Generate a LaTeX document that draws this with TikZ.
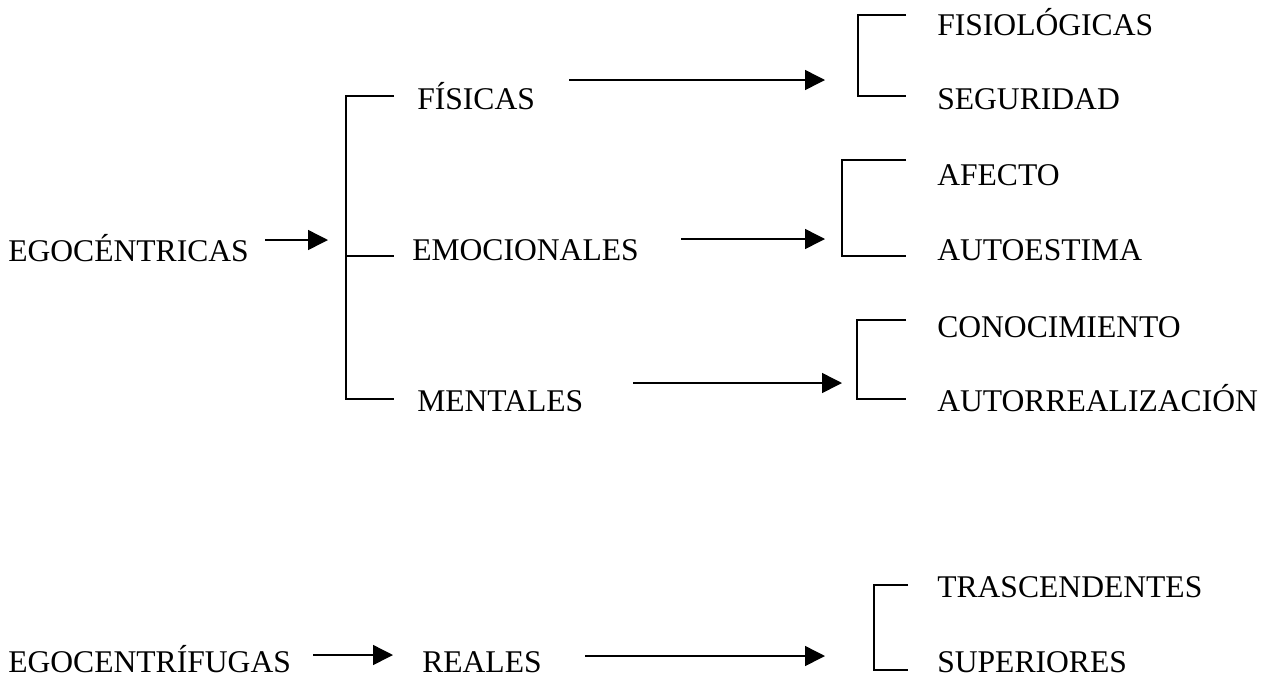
\documentclass[tikz,border=0pt]{standalone}
\usepackage{fontspec}
\setmainfont{Liberation Serif}
\usetikzlibrary{arrows.meta}
\begin{document}
\begin{tikzpicture}[x=0.75pt,y=-0.75pt,
  lbl/.style={anchor=base west,inner sep=0pt,font=\fontsize{23.7}{28}\selectfont},
  conn/.style={line width=1.1pt,-{Triangle[length=15pt,width=15pt]}},
  brk/.style={line width=1.1pt}]
\useasboundingbox (0,0) rectangle (1266,679);

% labels
\node[lbl] (ego)  at (8,261)   {EGOCÉNTRICAS};
\node[lbl] (fis)  at (417,109) {FÍSICAS};
\node[lbl] (emo)  at (412,260) {EMOCIONALES};
\node[lbl] (men)  at (417,411) {MENTALES};
\node[lbl] (fisi) at (937,35)  {FISIOLÓGICAS};
\node[lbl] (seg)  at (937,109) {SEGURIDAD};
\node[lbl] (afe)  at (937,185) {AFECTO};
\node[lbl] (aut)  at (937,260) {AUTOESTIMA};
\node[lbl] (con)  at (937,337) {CONOCIMIENTO};
\node[lbl] (autr) at (937,411) {AUTORREALIZACIÓN};
\node[lbl] (egf)  at (8,672)   {EGOCENTRÍFUGAS};
\node[lbl] (rea)  at (422,672) {REALES};
\node[lbl] (tra)  at (937,597) {TRASCENDENTES};
\node[lbl] (sup)  at (937,672) {SUPERIORES};

% main bracket
\coordinate (mT) at (346,96);
\coordinate (mM) at (346,256);
\coordinate (mB) at (346,399);
\draw[brk] (394,96) -- (mT) -- (mB) -- (394,399);
\draw[brk] (mM) -- (394,256);

% right brackets
\draw[brk] (906,15) -- (858,15) -- (858,96) -- (906,96);
\draw[brk] (906,160) -- (842,160) -- (842,256) -- (906,256);
\draw[brk] (906,320) -- (857,320) -- (857,399) -- (906,399);
\draw[brk] (908,585) -- (874,585) -- (874,670) -- (908,670);

% arrows
\coordinate (a0s) at (265,240);  \coordinate (a0e) at (328,240);
\coordinate (a1s) at (569,80);   \coordinate (a1e) at (825,80);
\coordinate (a2s) at (681,239);  \coordinate (a2e) at (825,239);
\coordinate (a3s) at (633,383);  \coordinate (a3e) at (842,383);
\coordinate (a4s) at (313,655);  \coordinate (a4e) at (393,655);
\coordinate (a5s) at (585,656);  \coordinate (a5e) at (825,656);
\draw[conn] (a0s) -- (a0e);
\draw[conn] (a1s) -- (a1e);
\draw[conn] (a2s) -- (a2e);
\draw[conn] (a3s) -- (a3e);
\draw[conn] (a4s) -- (a4e);
\draw[conn] (a5s) -- (a5e);
\end{tikzpicture}
\end{document}
